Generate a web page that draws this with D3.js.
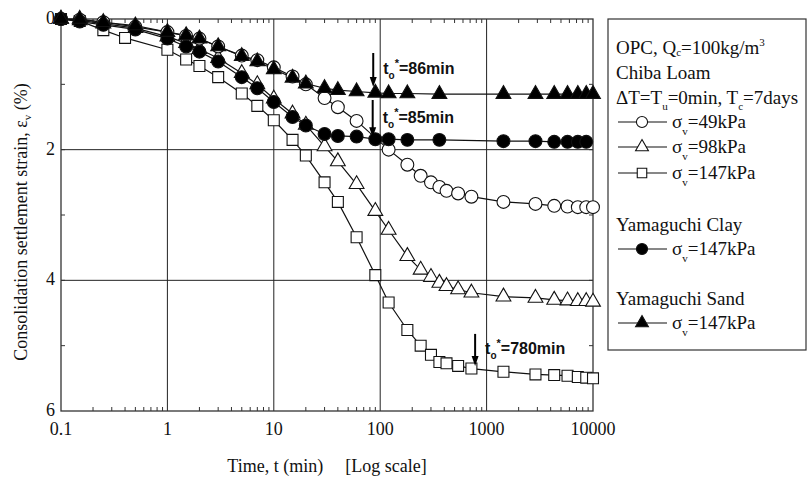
<!DOCTYPE html>
<html>
<head>
<meta charset="utf-8">
<script src="https://cdn.jsdelivr.net/npm/d3@7"></script>
<style>
  body { margin: 0; background: #fff; }
  svg { display: block; }
  text { font-family: "Liberation Serif", "Times New Roman", serif; fill: #111; }
  .ann { font-family: "Liberation Sans", Arial, sans-serif; font-weight: bold; }
</style>
</head>
<body>
<script>
// time (min) and strain (%), one pair of arrays per series
const t49 = [0.1, 0.15, 0.25, 0.5, 1, 1.5, 2, 3, 5, 7, 10, 15, 20, 30, 40, 60, 120, 180, 240, 300, 360, 420, 540, 720, 1440, 2880, 4320, 5760, 7200, 8640, 10000];
const e49 = [0, 0.01, 0.05, 0.12, 0.2, 0.26, 0.3, 0.42, 0.56, 0.63, 0.74, 0.88, 1.0, 1.21, 1.35, 1.56, 2.0, 2.23, 2.4, 2.5, 2.57, 2.63, 2.67, 2.72, 2.8, 2.83, 2.86, 2.87, 2.88, 2.88, 2.88];

const t98 = [0.1, 0.15, 0.25, 0.5, 1, 1.5, 2, 3, 5, 7, 10, 15, 20, 30, 40, 60, 90, 120, 180, 240, 300, 360, 420, 540, 720, 1440, 2880, 4320, 5760, 7200, 8640, 10000];
const e98 = [0, 0.02, 0.07, 0.14, 0.27, 0.37, 0.46, 0.6, 0.83, 1.0, 1.22, 1.45, 1.62, 1.95, 2.18, 2.53, 2.94, 3.23, 3.63, 3.84, 3.95, 4.04, 4.09, 4.14, 4.19, 4.25, 4.27, 4.3, 4.31, 4.32, 4.32, 4.33];

const t147 = [0.1, 0.15, 0.25, 0.4, 1, 1.5, 2, 3, 5, 7, 10, 15, 20, 30, 40, 60, 90, 120, 180, 240, 300, 360, 420, 540, 720, 1440, 2880, 4320, 5760, 7200, 8640, 10000];
const e147 = [0, 0.03, 0.17, 0.29, 0.47, 0.62, 0.72, 0.89, 1.14, 1.33, 1.55, 1.85, 2.09, 2.5, 2.8, 3.34, 3.92, 4.34, 4.76, 5.0, 5.14, 5.25, 5.27, 5.31, 5.35, 5.4, 5.44, 5.45, 5.46, 5.48, 5.49, 5.5];

const tClay = [0.1, 0.15, 0.25, 0.5, 1, 1.5, 2, 3, 5, 7, 10, 15, 20, 30, 40, 60, 90, 120, 180, 360, 1440, 2880, 4320, 5760, 7200, 8640];
const eClay = [0, 0.04, 0.09, 0.16, 0.3, 0.42, 0.5, 0.65, 0.89, 1.06, 1.27, 1.5, 1.63, 1.76, 1.79, 1.8, 1.84, 1.84, 1.85, 1.85, 1.87, 1.87, 1.88, 1.88, 1.88, 1.88];

const tSand = [0.1, 0.15, 0.25, 0.5, 1, 1.5, 2, 3, 5, 7, 10, 15, 20, 30, 40, 60, 90, 120, 180, 360, 1440, 2880, 4320, 5760, 7200, 8640, 10000];
const eSand = [0, 0, 0.05, 0.1, 0.2, 0.25, 0.3, 0.42, 0.57, 0.65, 0.77, 0.9, 0.99, 1.06, 1.09, 1.11, 1.13, 1.14, 1.14, 1.15, 1.15, 1.15, 1.15, 1.15, 1.15, 1.15, 1.15];

const xTicks = [0.1, 1, 10, 100, 1000, 10000];
const xTickLabels = ['0.1', '1', '10', '100', '1000', '10000'];
const yTicks = [0, 2, 4, 6];

// annotations: time, arrow from/to (strain), label
const annT = [86, 85, 780];
const annFrom = [0.52, 1.24, 4.82];
const annTo = [1.04, 1.81, 5.31];
const annText = ['=86min', '=85min', '=780min'];

const width = 810;
const height = 478;

const xScale = d3.scaleLog().domain([0.1, 10000]).range([61, 593]);
const yScale = d3.scaleLinear().domain([0, 6]).range([19, 411]);

const svg = d3.select('body').append('svg')
  .attr('width', width)
  .attr('height', height);

// grid
svg.append('g').selectAll('line')
  .data([1, 10, 100, 1000])
  .enter().append('line')
  .attr('x1', d => xScale(d)).attr('x2', d => xScale(d))
  .attr('y1', yScale(0)).attr('y2', yScale(6))
  .attr('stroke', '#222').attr('stroke-width', 1);

svg.append('g').selectAll('line')
  .data([2, 4])
  .enter().append('line')
  .attr('x1', xScale(0.1)).attr('x2', xScale(10000))
  .attr('y1', d => yScale(d)).attr('y2', d => yScale(d))
  .attr('stroke', '#222').attr('stroke-width', 1);

// minor x ticks
const minorX = [];
[0.1, 1, 10, 100, 1000].forEach(dec => {
  for (let k = 2; k <= 9; k++) minorX.push(dec * k);
});
const tk = svg.append('g').attr('stroke', '#333').attr('stroke-width', 1);
tk.selectAll('.mb').data(minorX).enter().append('line')
  .attr('x1', d => xScale(d)).attr('x2', d => xScale(d))
  .attr('y1', yScale(6)).attr('y2', yScale(6) - 4);
tk.selectAll('.mt').data(minorX).enter().append('line')
  .attr('x1', d => xScale(d)).attr('x2', d => xScale(d))
  .attr('y1', yScale(0)).attr('y2', yScale(0) + 4);
tk.selectAll('.yl').data([1, 2, 3, 4, 5]).enter().append('line')
  .attr('x1', xScale(0.1)).attr('x2', xScale(0.1) + 4)
  .attr('y1', d => yScale(d)).attr('y2', d => yScale(d));
tk.selectAll('.yr').data([1, 2, 3, 4, 5]).enter().append('line')
  .attr('x1', xScale(10000)).attr('x2', xScale(10000) - 4)
  .attr('y1', d => yScale(d)).attr('y2', d => yScale(d));

// frame
svg.append('rect')
  .attr('x', xScale(0.1)).attr('y', yScale(0))
  .attr('width', xScale(10000) - xScale(0.1))
  .attr('height', yScale(6) - yScale(0))
  .attr('fill', 'none').attr('stroke', '#333').attr('stroke-width', 1.3);

// tick labels
svg.append('g').selectAll('text')
  .data(xTicks)
  .enter().append('text')
  .attr('x', d => xScale(d))
  .attr('y', yScale(6) + 24)
  .attr('text-anchor', 'middle')
  .attr('font-size', 18)
  .text((d, i) => xTickLabels[i]);

svg.append('g').selectAll('text')
  .data(yTicks)
  .enter().append('text')
  .attr('x', xScale(0.1) - 6)
  .attr('y', d => yScale(d) + 5)
  .attr('text-anchor', 'end')
  .attr('font-size', 18)
  .text(d => d);

// axis titles
const xt = svg.append('text')
  .attr('x', 327).attr('y', 472)
  .attr('text-anchor', 'middle')
  .attr('font-size', 18);
xt.append('tspan').text('Time, t (min)');
xt.append('tspan').attr('dx', 22).text('[Log scale]');

const yt = svg.append('text')
  .attr('transform', 'translate(27,222) rotate(-90)')
  .attr('text-anchor', 'middle')
  .attr('font-size', 18);
yt.append('tspan').text('Consolidation settlement strain, ε');
yt.append('tspan').attr('font-size', 11).attr('dy', 4).text('v');
yt.append('tspan').attr('dy', -4).text(' (%)');

// series
const series = [
  { t: t147, e: e147, shape: d3.symbolSquare, fill: '#fff', size: 120 },
  { t: t98, e: e98, shape: d3.symbolTriangle, fill: '#fff', size: 95 },
  { t: t49, e: e49, shape: d3.symbolCircle, fill: '#fff', size: 130 },
  { t: tClay, e: eClay, shape: d3.symbolCircle, fill: '#000', size: 130 },
  { t: tSand, e: eSand, shape: d3.symbolTriangle, fill: '#000', size: 95 }
];

const line = d3.line()
  .x(d => xScale(d[0]))
  .y(d => yScale(d[1]));

series.forEach(s => {
  const pts = s.t.map((t, i) => [t, s.e[i]]);
  svg.append('path')
    .datum(pts)
    .attr('d', line)
    .attr('fill', 'none')
    .attr('stroke', '#111')
    .attr('stroke-width', 1.2);
});
series.forEach(s => {
  const pts = s.t.map((t, i) => [t, s.e[i]]);
  svg.append('g').selectAll('path')
    .data(pts)
    .enter().append('path')
    .attr('transform', d => `translate(${xScale(d[0])},${yScale(d[1])})`)
    .attr('d', d3.symbol().type(s.shape).size(s.size))
    .attr('fill', s.fill)
    .attr('stroke', '#111')
    .attr('stroke-width', 1.1);
});

// annotations
annT.forEach((t, i) => {
  const ax = xScale(t);
  const y0 = yScale(annFrom[i]);
  const y1 = yScale(annTo[i]);
  svg.append('line')
    .attr('x1', ax).attr('x2', ax)
    .attr('y1', y0).attr('y2', y1 - 8)
    .attr('stroke', '#000').attr('stroke-width', 2);
  svg.append('path')
    .attr('d', `M${ax - 3.5},${y1 - 10}L${ax + 3.5},${y1 - 10}L${ax},${y1}Z`)
    .attr('fill', '#000');
  const lab = svg.append('text')
    .attr('class', 'ann')
    .attr('x', ax + 10)
    .attr('y', (y0 + y1) / 2 + 4)
    .attr('font-size', 16);
  lab.append('tspan').text('t');
  lab.append('tspan').attr('font-size', 10).attr('dy', 5).text('o');
  lab.append('tspan').attr('font-size', 11).attr('dy', -12).text('*');
  lab.append('tspan').attr('dy', 7).text(annText[i]);
});

// legend
const lg = svg.append('g');
lg.append('rect')
  .attr('x', 608).attr('y', 19)
  .attr('width', 198).attr('height', 331)
  .attr('fill', '#fff').attr('stroke', '#333').attr('stroke-width', 1.2);

const l1 = lg.append('text').attr('x', 616).attr('y', 54).attr('font-size', 19);
l1.append('tspan').text('OPC, Q');
l1.append('tspan').attr('font-size', 11).attr('dy', 2).text('c');
l1.append('tspan').attr('dy', -2).text('=100kg/m');
l1.append('tspan').attr('font-size', 11).attr('dy', -8).text('3');

lg.append('text').attr('x', 616).attr('y', 79).attr('font-size', 19).text('Chiba Loam');

const l3 = lg.append('text').attr('x', 616).attr('y', 104).attr('font-size', 19);
l3.append('tspan').text('ΔT=T');
l3.append('tspan').attr('font-size', 11).attr('dy', 6).text('u');
l3.append('tspan').attr('dy', -6).text('=0min, T');
l3.append('tspan').attr('font-size', 11).attr('dy', 6).text('c');
l3.append('tspan').attr('dy', -6).text('=7days');

const legendRows = [
  { y: 122, s: series[2], label: '=49kPa' },
  { y: 147, s: series[1], label: '=98kPa' },
  { y: 173, s: series[0], label: '=147kPa' },
  { y: 249, s: series[3], label: '=147kPa' },
  { y: 323, s: series[4], label: '=147kPa' }
];
legendRows.forEach(r => {
  lg.append('line')
    .attr('x1', 618).attr('x2', 667)
    .attr('y1', r.y).attr('y2', r.y)
    .attr('stroke', '#111').attr('stroke-width', 1.2);
  lg.append('path')
    .attr('transform', `translate(642,${r.y})`)
    .attr('d', d3.symbol().type(r.s.shape).size(r.s.size * 0.75))
    .attr('fill', r.s.fill)
    .attr('stroke', '#111')
    .attr('stroke-width', 1.1);
  const tx = lg.append('text').attr('x', 672).attr('y', r.y + 6).attr('font-size', 19);
  tx.append('tspan').text('σ');
  tx.append('tspan').attr('font-size', 11).attr('dy', 7).text('v');
  tx.append('tspan').attr('dy', -7).text(r.label);
});

lg.append('text').attr('x', 616).attr('y', 231).attr('font-size', 19).text('Yamaguchi Clay');
lg.append('text').attr('x', 616).attr('y', 305).attr('font-size', 19).text('Yamaguchi Sand');
</script>
</body>
</html>
